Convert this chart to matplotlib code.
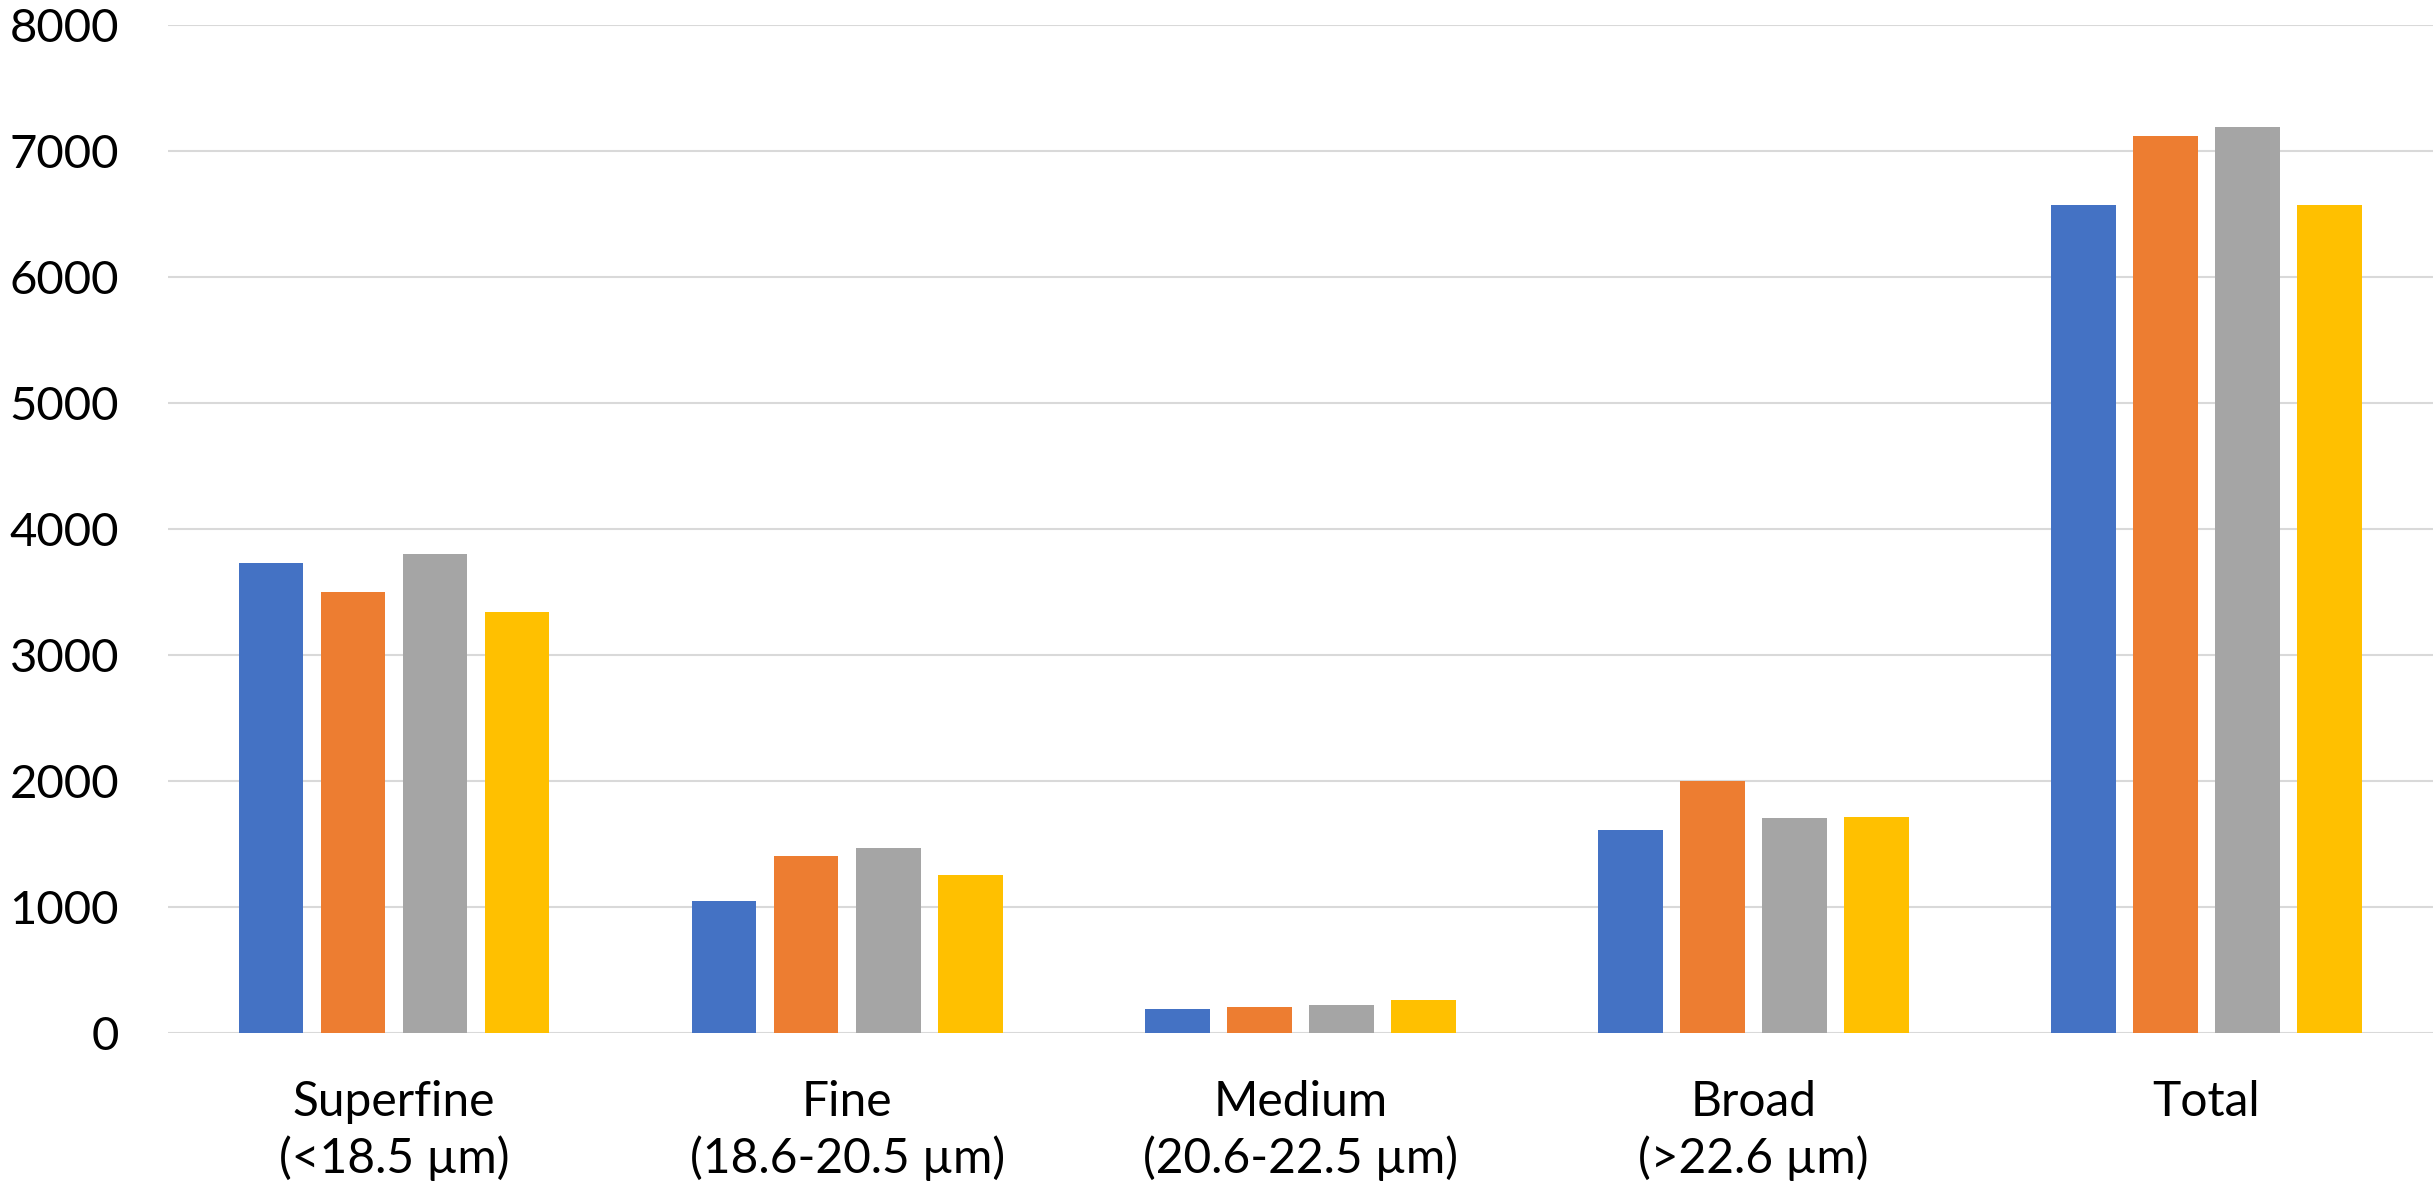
import numpy as np
import matplotlib.pyplot as plt

plt.rcParams['font.family'] = ['Lato', 'DejaVu Sans']

# ---- data ----
categories = ['Superfine\n(<18.5 µm)', 'Fine\n(18.6-20.5 µm)', 'Medium\n(20.6-22.5 µm)',
              'Broad\n(>22.6 µm)', 'Total']
series_1 = [3730, 1044, 189, 1608, 6575]
series_2 = [3500, 1401, 205, 2003, 7118]
series_3 = [3800, 1465, 218, 1703, 7192]
series_4 = [3340, 1250, 260, 1716, 6572]
colors = ['#4472C4', '#ED7D31', '#A5A5A5', '#FFC000']

# ---- plot ----
fig = plt.figure(figsize=(24.33, 11.96), dpi=100)
ax = fig.add_axes([0.0689, 0.1364, 0.9311, 0.8426])

x = np.arange(len(categories))
width = 0.1424
step = 0.181
for i, (vals, c) in enumerate(zip([series_1, series_2, series_3, series_4], colors)):
    ax.bar(x + (i - 1.5) * step, vals, width, color=c, zorder=3)

ax.set_xlim(-0.5, len(categories) - 0.5)
ax.set_ylim(0, 8000)
ax.set_yticks(range(0, 8001, 1000))
ax.set_xticks(x)
ax.set_xticklabels(categories, fontsize=34.5, linespacing=1.3)
ax.tick_params(axis='y', labelsize=34, length=0, pad=35)
ax.tick_params(axis='x', length=0, pad=34)

ax.grid(axis='y', color='#D9D9D9', linewidth=1.5, zorder=0)
for s in ax.spines.values():
    s.set_visible(False)

fig.savefig('out.png', dpi=100)
